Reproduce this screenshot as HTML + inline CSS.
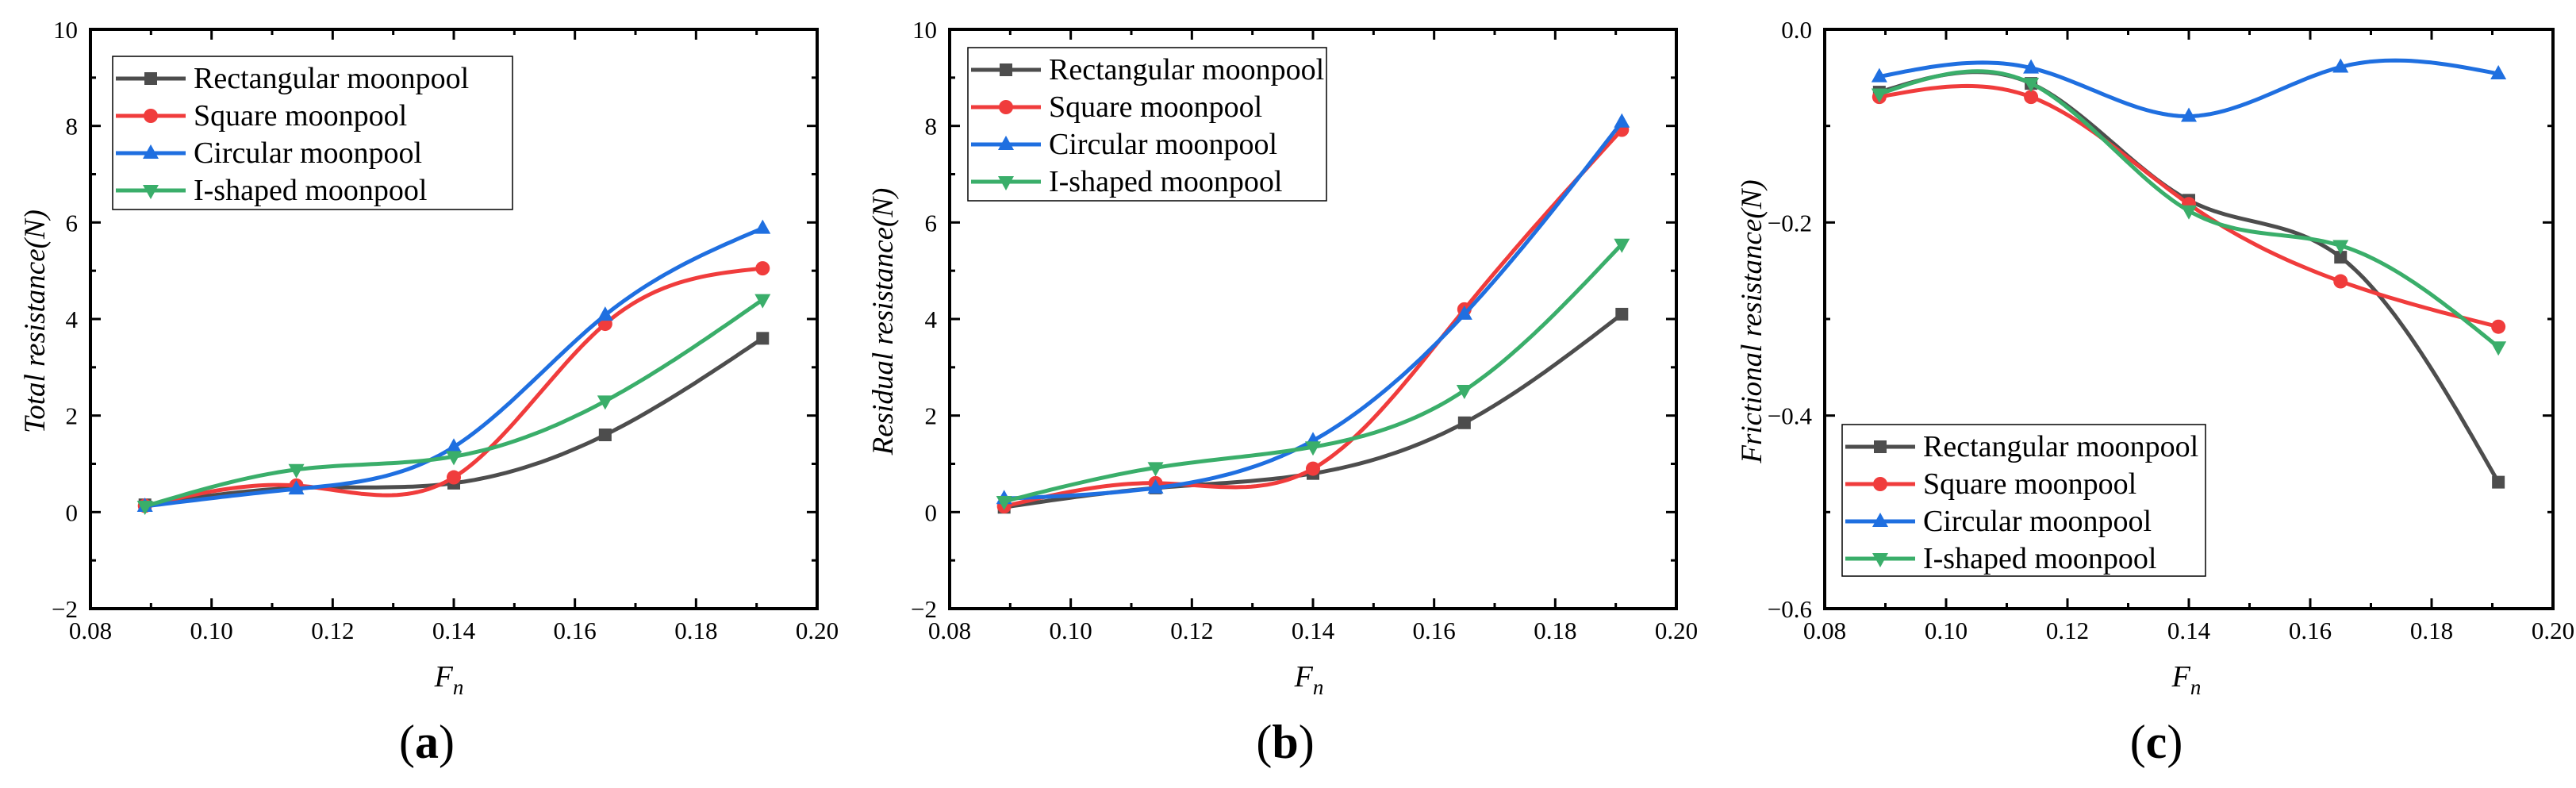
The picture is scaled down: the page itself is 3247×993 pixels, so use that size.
<!DOCTYPE html>
<html><head><meta charset="utf-8"><style>
html,body{margin:0;padding:0;background:#fff;}
svg{display:block;font-family:"Liberation Serif","Times New Roman",serif;}
</style></head><body>
<svg id="fig" width="3247" height="993" viewBox="0 0 3247 993" xmlns="http://www.w3.org/2000/svg"></svg>
<script>
const fnValues = [0.089, 0.114, 0.14, 0.165, 0.191];
const xTicks = [0.08, 0.10, 0.12, 0.14, 0.16, 0.18, 0.20];
const xTickLabels = ["0.08","0.10","0.12","0.14","0.16","0.18","0.20"];
const seriesNames = ["Rectangular moonpool","Square moonpool","Circular moonpool","I-shaped moonpool"];
const totalRect = [0.15, 0.5, 0.6, 1.6, 3.6];
const totalSquare = [0.13, 0.55, 0.72, 3.9, 5.05];
const totalCircular = [0.12, 0.48, 1.35, 4.08, 5.88];
const totalIShaped = [0.12, 0.88, 1.15, 2.3, 4.4];
const residualRect = [0.1, 0.5, 0.8, 1.85, 4.1];
const residualSquare = [0.12, 0.6, 0.9, 4.2, 7.92];
const residualCircular = [0.28, 0.5, 1.48, 4.1, 8.08];
const residualIShaped = [0.22, 0.92, 1.35, 2.52, 5.55];
const fricRect = [-0.065, -0.056, -0.177, -0.236, -0.469];
const fricSquare = [-0.070, -0.070, -0.181, -0.261, -0.308];
const fricCircular = [-0.049, -0.040, -0.090, -0.039, -0.046];
const fricIShaped = [-0.067, -0.056, -0.188, -0.224, -0.329];
const yTicksA = [-2, 0, 2, 4, 6, 8, 10];
const yTickLabelsA = ["\u22122","0","2","4","6","8","10"];
const yTicksC = [-0.6, -0.4, -0.2, 0.0];
const yTickLabelsC = ["\u22120.6","\u22120.4","\u22120.2","0.0"];

const NS = "http://www.w3.org/2000/svg";
const svg = document.getElementById("fig");
const colors = ["#4d4d4d","#f03c3c","#1f6fe0","#3aae6a"];
const markers = ["square","circle","up","down"];

function mk(tag, attrs, parent){
  const e = document.createElementNS(NS, tag);
  for (const k in attrs) e.setAttribute(k, attrs[k]);
  (parent||svg).appendChild(e);
  return e;
}
function spline(xs, ys){
  const n = xs.length, h = [], al = [], l=[1], mu=[0], z=[0], c=new Array(n).fill(0), b=[], d=[];
  for (let i=0;i<n-1;i++) h.push(xs[i+1]-xs[i]);
  for (let i=1;i<n-1;i++) al[i] = 3/h[i]*(ys[i+1]-ys[i]) - 3/h[i-1]*(ys[i]-ys[i-1]);
  for (let i=1;i<n-1;i++){ l[i]=2*(xs[i+1]-xs[i-1])-h[i-1]*mu[i-1]; mu[i]=h[i]/l[i]; z[i]=(al[i]-h[i-1]*z[i-1])/l[i]; }
  l[n-1]=1; z[n-1]=0;
  for (let j=n-2;j>=0;j--){ c[j]=z[j]-mu[j]*c[j+1]; b[j]=(ys[j+1]-ys[j])/h[j]-h[j]*(c[j+1]+2*c[j])/3; d[j]=(c[j+1]-c[j])/(3*h[j]); }
  return function(x){
    let i = n-2; for (let k=0;k<n-1;k++){ if (x<=xs[k+1]){ i=k; break; } }
    const dx = x-xs[i]; return ys[i]+b[i]*dx+c[i]*dx*dx+d[i]*dx*dx*dx;
  };
}
function marker(g, type, cx, cy, color){
  let e;
  if (type==="square") e = mk("rect",{x:cx-8,y:cy-8,width:16,height:16,fill:color},g);
  else if (type==="circle") e = mk("circle",{cx:cx,cy:cy,r:9,fill:color},g);
  else if (type==="up") e = mk("polygon",{points:`${cx},${cy-11} ${cx-10},${cy+7} ${cx+10},${cy+7}`,fill:color},g);
  else e = mk("polygon",{points:`${cx},${cy+11} ${cx-10},${cy-7} ${cx+10},${cy-7}`,fill:color},g);
  return e;
}

function panel(cfg){
  const g = mk("g",{});
  
  
  const L=cfg.left, R=cfg.right, T=37, B=767;
  const sx = v => L + (v-0.08)/(0.20-0.08)*(R-L);
  const sy = v => B - (v-cfg.ymin)/(cfg.ymax-cfg.ymin)*(B-T);
  for (let s=0;s<4;s++){
    const ys = cfg.series[s];
    const f = spline(fnValues, ys);
    let d = "";
    for (let k=0;k<=120;k++){
      const x = fnValues[0] + (fnValues[4]-fnValues[0])*k/120;
      d += (k?"L":"M") + sx(x).toFixed(1) + "," + sy(f(x)).toFixed(1);
    }
    const p = mk("path",{d:d,fill:"none",stroke:colors[s],"stroke-width":5,"stroke-linejoin":"round"},g);
    
    
    for (let i=0;i<fnValues.length;i++){
      const m = marker(g, markers[s], sx(fnValues[i]), sy(ys[i]), colors[s]);
      
      
    }
  }
  const fr = mk("rect",{x:L,y:T,width:R-L,height:B-T,fill:"none",stroke:"#000","stroke-width":4},g);
  
  
  for (let i=0;i<xTicks.length;i++){
    const x = sx(xTicks[i]);
    mk("line",{x1:x,y1:B,x2:x,y2:B-13,stroke:"#000","stroke-width":3},g);
    mk("line",{x1:x,y1:T,x2:x,y2:T+13,stroke:"#000","stroke-width":3},g);
    if (i<xTicks.length-1){
      const xm = sx(xTicks[i]+0.01);
      mk("line",{x1:xm,y1:B,x2:xm,y2:B-7,stroke:"#000","stroke-width":3},g);
      mk("line",{x1:xm,y1:T,x2:xm,y2:T+7,stroke:"#000","stroke-width":3},g);
    }
    const t = mk("text",{x:x,y:B+38,"font-size":31,"text-anchor":"middle"},g);
    t.textContent = xTickLabels[i];
    
    
  }
  for (let i=0;i<cfg.yTicks.length;i++){
    const y = sy(cfg.yTicks[i]);
    mk("line",{x1:L,y1:y,x2:L+13,y2:y,stroke:"#000","stroke-width":3},g);
    mk("line",{x1:R,y1:y,x2:R-13,y2:y,stroke:"#000","stroke-width":3},g);
    if (i<cfg.yTicks.length-1){
      const ym = sy((cfg.yTicks[i]+cfg.yTicks[i+1])/2);
      mk("line",{x1:L,y1:ym,x2:L+7,y2:ym,stroke:"#000","stroke-width":3},g);
      mk("line",{x1:R,y1:ym,x2:R-7,y2:ym,stroke:"#000","stroke-width":3},g);
    }
    const t = mk("text",{x:L-16,y:y+11,"font-size":31,"text-anchor":"end"},g);
    t.textContent = cfg.yLabels[i];
    
    
  }
  const yt = mk("text",{x:0,y:0,"font-size":37,"font-style":"italic","text-anchor":"middle",transform:`translate(${cfg.ylabX},405) rotate(-90)`},g);
  yt.textContent = cfg.ytitle;
  
  
  const xt = mk("text",{x:cfg.fnX,y:865,"font-size":38,"font-style":"italic","text-anchor":"middle"},g);
  xt.textContent = "F";
  const sub = mk("tspan",{"font-size":27,dy:10},xt); sub.textContent = "n";
  
  
  const pl = mk("text",{x:cfg.labX,y:955,"font-size":60,"text-anchor":"middle"},g);
  pl.textContent = "(";
  const bt = mk("tspan",{"font-weight":"bold"},pl); bt.textContent = cfg.letter;
  const cl = mk("tspan",{},pl); cl.textContent = ")";
  
  
  const lg = mk("g",{},g);
  
  
  const lb = cfg.legend;
  mk("rect",{x:lb.x,y:lb.y,width:lb.w,height:lb.h,fill:"#fff",stroke:"#000","stroke-width":1.5},lg);
  for (let s=0;s<4;s++){
    const ry = lb.y + 28 + s*47;
    const row = mk("g",{},lg);
    
    
    mk("line",{x1:lb.x+4,y1:ry,x2:lb.x+92,y2:ry,stroke:colors[s],"stroke-width":5},row);
    marker(row, markers[s], lb.x+48, ry, colors[s]);
    const t = mk("text",{x:lb.x+102,y:ry+12,"font-size":38},row);
    t.textContent = seriesNames[s];
  }
}

panel({id:"total", left:114, right:1030, ymin:-2, ymax:10, yTicks:yTicksA, yLabels:yTickLabelsA,
  series:[totalRect,totalSquare,totalCircular,totalIShaped], ytitle:"Total resistance(N)", ylabX:56,
  fnX:566, labX:538, letter:"a", legend:{x:142,y:71,w:504,h:193}});
panel({id:"residual", left:1197, right:2113, ymin:-2, ymax:10, yTicks:yTicksA, yLabels:yTickLabelsA,
  series:[residualRect,residualSquare,residualCircular,residualIShaped], ytitle:"Residual resistance(N)", ylabX:1125,
  fnX:1650, labX:1620, letter:"b", legend:{x:1220,y:60,w:452,h:193}});
panel({id:"frictional", left:2300, right:3218, ymin:-0.6, ymax:0.0, yTicks:yTicksC, yLabels:yTickLabelsC,
  series:[fricRect,fricSquare,fricCircular,fricIShaped], ytitle:"Frictional resistance(N)", ylabX:2220,
  fnX:2756, labX:2718, letter:"c", legend:{x:2322,y:535,w:458,h:191}});
</script>
</body></html>
